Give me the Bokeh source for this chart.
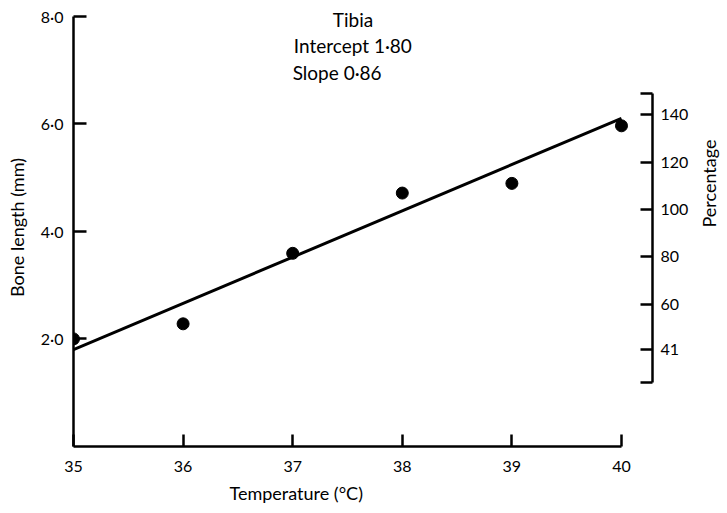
import math
from bokeh.plotting import figure
from bokeh.models import Range1d, LinearAxis, FixedTicker, Label, Title
from bokeh.embed import file_html
from bokeh.resources import INLINE

temps = [35, 36, 37, 38, 39, 40]
lengths = [2.00, 2.28, 3.59, 4.71, 4.89, 5.96]
intercept = 1.80
slope = 0.86
x_ticks = [35, 36, 37, 38, 39, 40]
y_ticks = [2, 4, 6, 8]
y_tick_labels = ["2·0", "4·0", "6·0", "8·0"]
pct_ticks = [41, 60, 80, 100, 120, 140]
pct_bounds = (27, 149)
title_lines = ["Tibia", "Intercept 1·80", "Slope 0·86"]

FONT = "Lato"

p = figure(frame_width=579, frame_height=438, output_backend="svg", toolbar_location=None,
           x_range=Range1d(35, 40.283), y_range=Range1d(0, 8.14),
           min_border_left=73, min_border_right=40, min_border_top=8,
           min_border_bottom=40)
p.outline_line_color = None
p.grid.visible = False
p.background_fill_color = "white"

# fitted line
line_x = [temps[0], temps[-1]]
line_y = [intercept + slope * (t - temps[0]) for t in line_x]
p.line(line_x, line_y, line_color="black", line_width=3)
p.scatter(temps, lengths, size=12, color="black")

def style(ax, tick_in):
    ax.axis_line_width = 2.5
    ax.axis_line_color = "black"
    ax.major_tick_line_width = 2.5
    ax.major_tick_line_color = "black"
    ax.major_tick_in = tick_in
    ax.major_tick_out = 0
    ax.minor_tick_line_color = None
    ax.major_label_text_font = FONT
    ax.major_label_text_font_size = "16px"
    ax.major_label_text_color = "black"
    ax.axis_label_text_font = FONT
    ax.axis_label_text_font_size = "18px"
    ax.axis_label_text_font_style = "normal"
    ax.axis_label_text_color = "black"

xa = p.xaxis[0]
style(xa, 12)
xa.ticker = FixedTicker(ticks=x_ticks)
xa.bounds = (35, 40)
xa.major_label_standoff = 14

ya = p.yaxis[0]
style(ya, 13)
ya.ticker = FixedTicker(ticks=y_ticks)
ya.major_label_overrides = {t: l for t, l in zip(y_ticks, y_tick_labels)}
ya.bounds = (0, 8)
ya.major_label_standoff = 10
ya.axis_label = "Bone length (mm)"
ya.axis_label_standoff = 10

p.extra_y_ranges = {"pct": Range1d(0, 184.8)}
ra = LinearAxis(y_range_name="pct")
style(ra, 12)
ra.ticker = FixedTicker(ticks=[pct_bounds[0]] + pct_ticks + [pct_bounds[1]])
ra.major_label_overrides = {pct_bounds[0]: "", pct_bounds[1]: ""}
ra.bounds = pct_bounds
ra.major_label_standoff = 8
p.add_layout(ra, "right")

# second, line-less right axis that only carries the "Percentage" title
ra2 = LinearAxis(y_range_name="pct")
style(ra2, 0)
ra2.ticker = FixedTicker(ticks=[])
ra2.axis_line_color = None
ra2.major_tick_line_color = None
ra2.bounds = (39, 89)
ra2.axis_label = "Percentage"
ra2.axis_label_standoff = 17
ra2.axis_label_orientation = math.pi / 2
p.add_layout(ra2, "right")

# x axis title (off-centre in the original)
p.add_layout(Title(text="Temperature (°C)", align="left", offset=156, standoff=10,
                   text_font=FONT, text_font_size="18px", text_font_style="normal",
                   text_color="black"), "below")

p.add_layout(Label(x=37.55, y=7.94, text=title_lines[0], text_align="center",
                   text_baseline="middle", text_font=FONT, text_font_size="19px",
                   text_color="black"))
p.add_layout(Label(x=37.01, y=7.45, text=title_lines[1], text_align="left",
                   text_baseline="middle", text_font=FONT, text_font_size="19px",
                   text_color="black"))
p.add_layout(Label(x=37.0, y=6.95, text=title_lines[2], text_align="left",
                   text_baseline="middle", text_font=FONT, text_font_size="19px",
                   text_color="black"))

open("out.html", "w").write(file_html(p, INLINE))
